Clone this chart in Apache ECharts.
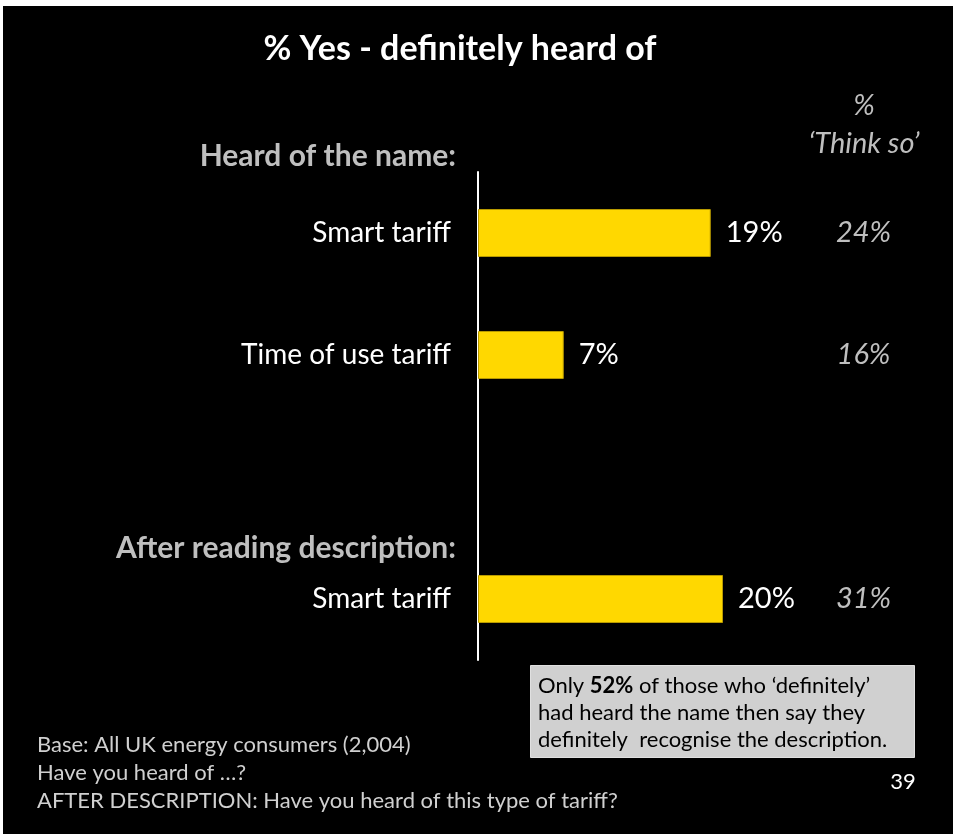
<!DOCTYPE html>
<html>
<head>
<meta charset="utf-8">
<script src="https://cdn.jsdelivr.net/npm/echarts@6/dist/echarts.min.js"></script>
<style>
  html, body { margin: 0; padding: 0; background: #ffffff; }
  #chart { position: absolute; left: 3px; top: 6px; width: 950px; height: 828px; background: #000000; }
</style>
</head>
<body>
<div id="chart"></div>
<script>
// Survey results: % who have definitely heard of each tariff type
const categories = ['Smart tariff', 'Time of use tariff', '', 'Smart tariff'];
const definitelyHeard = [19, 7, null, 20];
const thinkSo = ['24%', '16%', '', '31%'];

const FONT = 'Lato, "Open Sans", sans-serif';
const OX = 3, OY = 6; // offset of chart box within the page

const chart = echarts.init(document.getElementById('chart'), null, { renderer: 'canvas' });

const categoryKeys = categories.map((c, i) => i + '|' + c);

// text placed by its centre point (page coordinates)
function label(text, x, y, font, fill, align) {
  return {
    type: 'text', x: x - OX, y: y - OY,
    style: {
      text: text, font: font, fill: fill,
      textAlign: align, align: align,
      textVerticalAlign: 'middle', verticalAlign: 'middle'
    }
  };
}

const option = {
  backgroundColor: '#000000',
  animation: false,
  grid: {
    left: 478 - OX,
    top: 172 - OY,
    width: 367.5,
    height: 488,
    containLabel: false
  },
  xAxis: {
    type: 'value',
    min: 0,
    max: 30,
    show: false
  },
  yAxis: [
    {
      type: 'category',
      inverse: true,
      data: categoryKeys,
      axisLine: { show: true, lineStyle: { color: '#ffffff', width: 2 } },
      axisTick: { show: false },
      axisLabel: {
        margin: 27,
        color: '#ffffff',
        fontFamily: FONT,
        fontSize: 28,
        formatter: (v, i) => categories[i]
      }
    },
    {
      type: 'category',
      inverse: true,
      position: 'right',
      data: categoryKeys,
      axisLine: { show: false },
      axisTick: { show: false },
      axisLabel: {
        margin: 18,
        align: 'center',
        color: '#bfbfbf',
        fontFamily: FONT,
        fontStyle: 'italic',
        fontSize: 29,
        formatter: (v, i) => thinkSo[i]
      }
    }
  ],
  series: [
    {
      type: 'bar',
      data: definitelyHeard,
      barWidth: 48,
      itemStyle: { color: '#ffd800', borderColor: '#b89a00', borderWidth: 1 },
      label: {
        show: true,
        position: 'right',
        distance: 15,
        color: '#ffffff',
        fontFamily: FONT,
        fontSize: 29,
        formatter: p => p.value + '%'
      }
    }
  ],
  graphic: [
    label('% Yes - definitely heard of', 460, 49, 'bold 34px ' + FONT, '#ffffff', 'center'),
    label('Heard of the name:', 456, 156, 'bold 30px ' + FONT, '#bfbfbf', 'right'),
    label('After reading description:', 456, 548, 'bold 30px ' + FONT, '#bfbfbf', 'right'),
    label('%', 864, 106, 'italic 29px ' + FONT, '#bfbfbf', 'center'),
    label('\u2018Think so\u2019', 864, 144, 'italic 29px ' + FONT, '#bfbfbf', 'center'),
    {
      type: 'rect', left: 530 - OX, top: 665 - OY,
      shape: { width: 384, height: 92 },
      style: { fill: '#d0d0d0', stroke: '#e0e0e0', lineWidth: 1 }
    },
    {
      type: 'text', left: 538 - OX, top: 675 - OY,
      style: {
        rich: {
          n: { fontFamily: FONT, fontSize: 22, fill: '#000000', lineHeight: 27 },
          b: { fontFamily: FONT, fontSize: 22, fontWeight: 'bold', fill: '#000000', lineHeight: 27 }
        },
        text: '{n|Only }{b|52%}{n| of those who \u2018definitely\u2019}\n{n|had heard the name then say they}\n{n|definitely  recognise the description.}'
      }
    },
    label('Base: All UK energy consumers (2,004)', 37, 745, '22px ' + FONT, '#d0d0d0', 'left'),
    label('Have you heard of \u2026?', 37, 773, '22px ' + FONT, '#d0d0d0', 'left'),
    label('AFTER DESCRIPTION: Have you heard of this type of tariff?', 37, 801, '22px ' + FONT, '#d0d0d0', 'left'),
    label('39', 903, 782, '22px ' + FONT, '#ffffff', 'center')
  ]
};

chart.setOption(option);
</script>
</body>
</html>
